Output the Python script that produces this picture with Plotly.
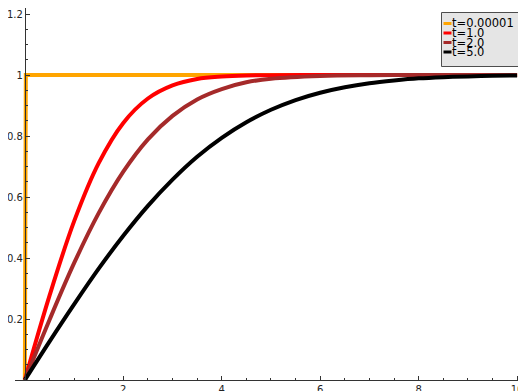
import plotly.graph_objects as go

# ---- data ----
labels = ["t=0.00001", "t=1.0", "t=2.0", "t=5.0"]
colors = ["#FFA500", "#FF0000", "#A52A2A", "#000000"]

x_orange = [0, 0.01, 0.02, 10]
y_orange = [0, 0.975, 1.0, 1.0]

x_red = [0, 0.5, 1, 1.5, 2, 2.5, 3, 3.5, 4, 4.5, 5, 6, 7, 8, 9, 10]
y_red = [0, 0.276, 0.520, 0.711, 0.843, 0.923, 0.966, 0.987, 0.995, 0.9985,
         0.9996, 1.0, 1.0, 1.0, 1.0, 1.0]

x_brown = [0, 0.5, 1, 1.5, 2, 2.5, 3, 3.5, 4, 4.5, 5, 6, 7, 8, 9, 10]
y_brown = [0, 0.197, 0.383, 0.547, 0.683, 0.789, 0.866, 0.920, 0.954, 0.976,
           0.988, 0.997, 0.9995, 1.0, 1.0, 1.0]

x_black = [0, 0.5, 1, 1.5, 2, 2.5, 3, 3.5, 4, 4.5, 5, 5.5, 6, 6.5, 7, 7.5,
           8, 8.5, 9, 9.5, 10]
y_black = [0, 0.126, 0.248, 0.365, 0.473, 0.571, 0.657, 0.732, 0.794, 0.845,
           0.886, 0.918, 0.942, 0.960, 0.973, 0.982, 0.989, 0.993, 0.9955,
           0.9973, 0.9984]

x_ticks = [2, 4, 6, 8, 10]
y_ticks = [0.2, 0.4, 0.6, 0.8, 1, 1.2]
y_ticktext = ["0.2", "0.4", "0.6", "0.8", "1", "1.2"]

# ---- layout geometry (page body has an 8px margin) ----
OFF = 8
W, H = 526 - OFF, 391 - OFF
L, R, T, B = 7, 4, 0, 11
pw, ph = W - L - R, H - T - B
x_range = [-0.2, 10.1]
y_range = [0, 1.2197]


def px_x(px):
    return (px - OFF - L) / pw


def px_y(py):
    return (H + OFF - B - py) / ph


series = [
    (x_orange, y_orange, "linear"),
    (x_red, y_red, "spline"),
    (x_brown, y_brown, "spline"),
    (x_black, y_black, "spline"),
]

fig = go.Figure()
for (xs, ys, shape), name, col in zip(series, labels, colors):
    fig.add_trace(go.Scatter(
        x=xs, y=ys, mode="lines", name=name,
        line=dict(color=col, width=4, shape=shape),
        showlegend=False,
    ))

axis_color = "#333333"
yaxis_pos = (0 - x_range[0]) / (x_range[1] - x_range[0])

fig.update_layout(
    width=W, height=H,
    margin=dict(l=L, r=R, t=T, b=B, autoexpand=False),
    plot_bgcolor="white", paper_bgcolor="white",
    font=dict(family="DejaVu Sans", size=10, color="#222222"),
    xaxis=dict(
        range=x_range, showgrid=False, zeroline=False,
        showline=True, linecolor=axis_color, linewidth=1,
        tickvals=x_ticks, ticks="inside", ticklen=4, tickcolor=axis_color,
        minor=dict(dtick=0.5, ticks="inside", ticklen=2, tickcolor=axis_color,
                   showgrid=False),
        automargin=False,
    ),
    yaxis=dict(
        range=y_range, showgrid=False, zeroline=False,
        showline=True, linecolor=axis_color, linewidth=1,
        anchor="free", position=yaxis_pos,
        tickvals=y_ticks, ticktext=y_ticktext,
        ticks="inside", ticklen=4, tickcolor=axis_color,
        minor=dict(dtick=0.05, ticks="inside", ticklen=2, tickcolor=axis_color,
                   showgrid=False),
        automargin=False,
    ),
)

# ---- legend drawn by hand (compact, like the original) ----
fig.add_shape(type="rect", xref="paper", yref="paper",
              x0=px_x(441.5), x1=px_x(521.5),
              y0=px_y(66.5), y1=px_y(12.5),
              fillcolor="#e5e5e5", line=dict(color="#4d4d4d", width=1),
              layer="above")
row_y = [23.5, 33.0, 42.5, 52.0]
for name, col, ry in zip(labels, colors, row_y):
    fig.add_shape(type="line", xref="paper", yref="paper",
                  x0=px_x(443.5), x1=px_x(451.5),
                  y0=px_y(ry), y1=px_y(ry),
                  line=dict(color=col, width=3), layer="above")
    fig.add_annotation(xref="paper", yref="paper",
                       x=px_x(450.5), y=px_y(ry),
                       xanchor="left", yanchor="middle",
                       text=name, showarrow=False,
                       font=dict(family="DejaVu Sans", size=11.5,
                                 color="#000000"),
                       borderpad=0)

fig.write_html("out.html")
